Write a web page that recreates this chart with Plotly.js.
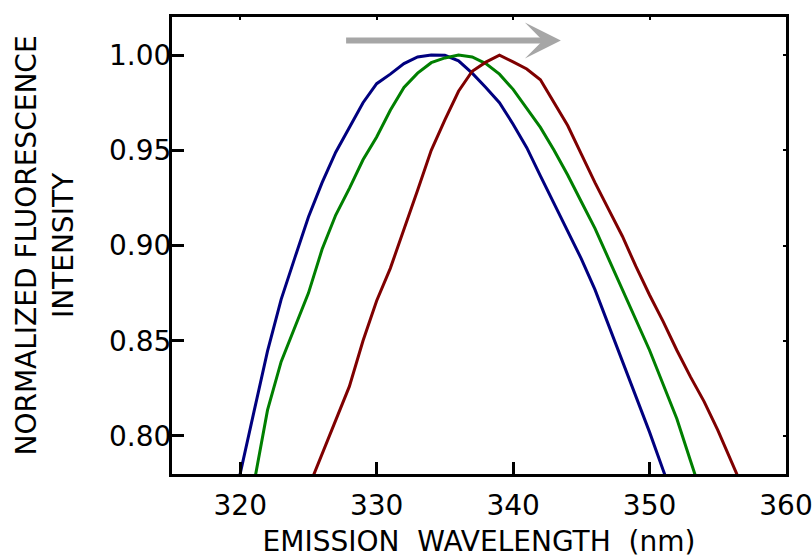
<!DOCTYPE html>
<html>
<head>
<meta charset="utf-8">
<script src="https://cdn.plot.ly/plotly-3.0.1.min.js"></script>
<style>html,body{margin:0;padding:0;background:#fff;}#chart{width:812px;height:558px;}</style>
</head>
<body>
<div id="chart"></div>
<script>
// Emission wavelength (nm) and normalized fluorescence intensity for three spectra
const wlBlue = [319,320,321,322,323,324,325,326,327,328,329,330,331,332,333,334,335,336,337,338,339,340,341,342,343,344,345,346,347,348,349,350,351,352];
const blue   = [0.748,0.781,0.8125,0.8445,0.8717,0.8935,0.915,0.933,0.949,0.962,0.975,0.985,0.990,0.9955,0.999,1.000,0.9999,0.997,0.9905,0.983,0.975,0.9637,0.9514,0.9366,0.9222,0.908,0.893,0.8768,0.858,0.840,0.821,0.802,0.782,0.762];

const wlGreen = [320,321,322,323,324,325,326,327,328,329,330,331,332,333,334,335,336,337,338,339,340,341,342,343,344,345,346,347,348,349,350,351,352,353,354];
const green   = [0.736,0.775,0.8135,0.839,0.857,0.875,0.898,0.916,0.930,0.945,0.957,0.971,0.983,0.9905,0.996,0.9985,1.000,0.999,0.9955,0.990,0.982,0.972,0.962,0.950,0.937,0.923,0.909,0.893,0.877,0.861,0.845,0.827,0.809,0.787,0.765];

const wlRed = [324,325,326,327,328,329,330,331,332,333,334,335,336,337,338,339,340,341,342,343,344,345,346,347,348,349,350,351,352,353,354,355,356,357];
const red   = [0.755,0.773,0.790,0.808,0.826,0.850,0.871,0.888,0.908,0.929,0.950,0.966,0.981,0.9915,0.9963,1.000,0.9964,0.9927,0.987,0.975,0.963,0.948,0.933,0.919,0.905,0.889,0.874,0.860,0.845,0.831,0.818,0.803,0.787,0.770];

const xTicks = [320,330,340,350,360];
const yTicks = [0.80,0.85,0.90,0.95,1.00];
const yTickText = ['0.80','0.85','0.90','0.95','1.00'];

const xRange = [315,360];
const yRange = [0.78,1.02];

const FONT = 'DejaVu Sans, Verdana, sans-serif';

const traces = [
  {x: wlBlue, y: blue, mode:'lines', line:{color:'#00007f', width:3}, showlegend:false, hoverinfo:'skip'},
  {x: wlGreen, y: green, mode:'lines', line:{color:'#007f00', width:3}, showlegend:false, hoverinfo:'skip'},
  {x: wlRed, y: red, mode:'lines', line:{color:'#7f0000', width:3}, showlegend:false, hoverinfo:'skip'},
  {x: [], y: [], xaxis:'x2', yaxis:'y2', mode:'lines', showlegend:false, hoverinfo:'skip'}
];

const layout = {
  width: 812, height: 558,
  margin: {l:172, r:26, t:17, b:84},
  paper_bgcolor:'#fff', plot_bgcolor:'#fff',
  font: {family: FONT, size: 28, color:'#000'},
  xaxis: {
    range: xRange, tickvals: xTicks, ticktext: xTicks.map(String),
    ticks:'inside', ticklen:12, tickwidth:3, tickcolor:'#000',
    showline:true, linewidth:3, linecolor:'#000', mirror:true,
    showgrid:false, zeroline:false, ticklabeloverflow:'allow', ticklabelstandoff:4,
    tickfont:{family:FONT, size:28},
    title:{text:'EMISSION&nbsp; WAVELENGTH&nbsp; (nm)', font:{family:FONT, size:28}, standoff:14}
  },
  yaxis: {
    range: yRange, tickvals: yTicks, ticktext: yTickText,
    ticks:'inside', ticklen:12, tickwidth:3, tickcolor:'#000',
    showline:true, linewidth:3, linecolor:'#000', mirror:true,
    showgrid:false, zeroline:false, ticklabelstandoff:-8, ticklabeloverflow:'allow',
    tickfont:{family:FONT, size:28},
    title:{text:'NORMALIZED FLUORESCENCE<br>INTENSITY', font:{family:FONT, size:28}, standoff:28}
  },
  xaxis2: {
    range: xRange, overlaying:'x', side:'top', anchor:'y2',
    tickvals: xTicks, ticks:'inside', ticklen:3, tickwidth:2, tickcolor:'#000',
    showticklabels:false, showline:false, showgrid:false, zeroline:false
  },
  yaxis2: {
    range: yRange, overlaying:'y', side:'right', anchor:'x2',
    tickvals: yTicks, ticks:'inside', ticklen:3, tickwidth:2, tickcolor:'#000',
    showticklabels:false, showline:false, showgrid:false, zeroline:false
  },
  annotations: [{
    x: 343.5, y: 1.0076, ax: 327.65, ay: 1.0076,
    xref:'x', yref:'y', axref:'x', ayref:'y',
    text:'', showarrow:true, arrowhead:3, arrowsize:1.0, arrowwidth:6,
    arrowcolor:'#a6a6a6', standoff:0
  }]
};

Plotly.newPlot('chart', traces, layout, {displayModeBar:false, staticPlot:true});
</script>
</body>
</html>
